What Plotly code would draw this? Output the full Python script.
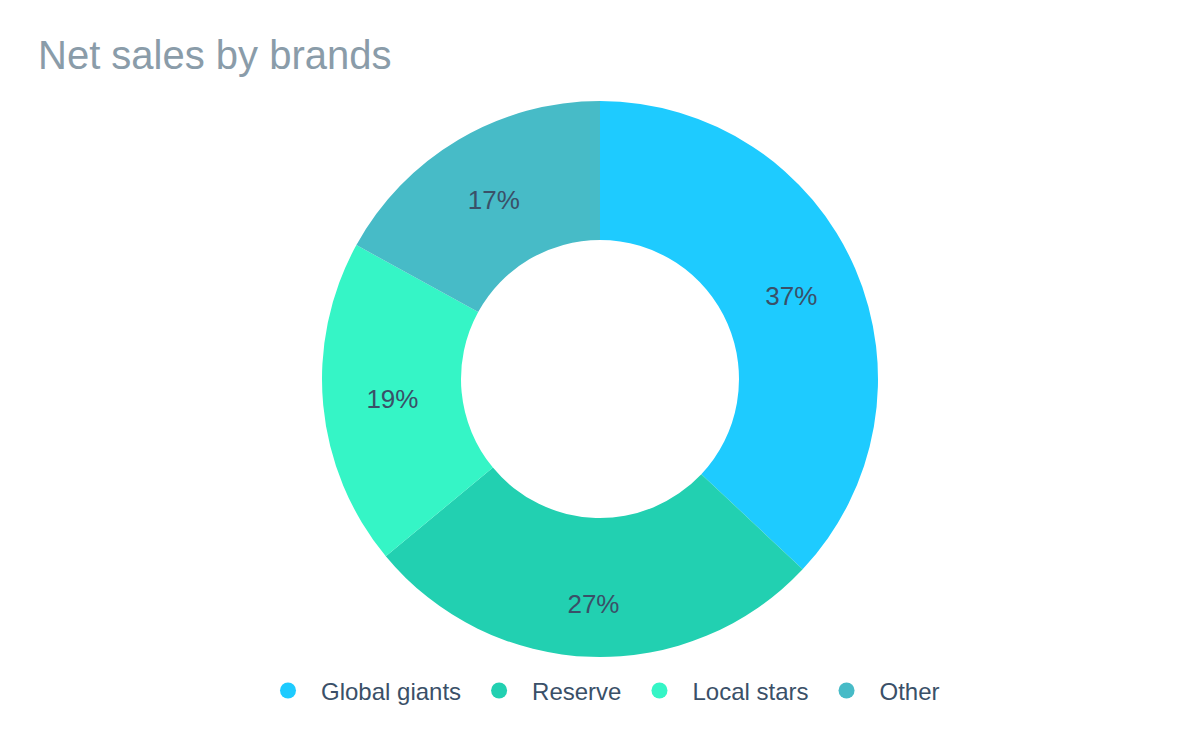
import plotly.graph_objects as go

categories = ["Global giants", "Reserve", "Local stars", "Other"]
values = [37, 27, 19, 17]
colors = ["#1ECBFF", "#22D0B1", "#35F5C6", "#47BBC7"]
label_templates = ["%{percent}", "\u00a0<br>%{percent}", "%{percent}", "%{percent}"]

TEXT = "#3A5068"
FONT = "Liberation Sans, Arial, sans-serif"

fig = go.Figure()
fig.add_trace(go.Pie(
    labels=categories, values=values, hole=0.5, sort=False,
    direction="clockwise", rotation=0,
    marker=dict(colors=colors, line=dict(width=0)),
    texttemplate=label_templates, textposition="inside",
    insidetextorientation="horizontal",
    textfont=dict(family=FONT, size=26, color=TEXT),
    hoverinfo="label+percent",
    showlegend=False, domain=dict(x=[0, 1], y=[0, 1]),
))
for name, c in zip(categories, colors):
    fig.add_trace(go.Scatter(
        x=[None], y=[None], mode="markers", name=name,
        marker=dict(color=c, size=16, symbol="circle"),
        showlegend=True,
    ))

fig.update_layout(
    width=1200, height=742,
    margin=dict(l=0, r=0, t=101, b=85),
    paper_bgcolor="white", plot_bgcolor="white",
    title=dict(text="Net sales by brands", x=38/1200, xref="container", xanchor="left",
               y=1-55/742, yref="container", yanchor="middle",
               font=dict(family=FONT, size=40, color="#8A9CA9")),
    xaxis=dict(visible=False), yaxis=dict(visible=False),
    legend=dict(orientation="h", x=0.5, xanchor="center", y=-0.061, yanchor="middle",
                font=dict(family=FONT, size=24, color=TEXT), itemsizing="trace",
                itemwidth=56),
    font=dict(family=FONT),
)
fig.write_html("out.html")
